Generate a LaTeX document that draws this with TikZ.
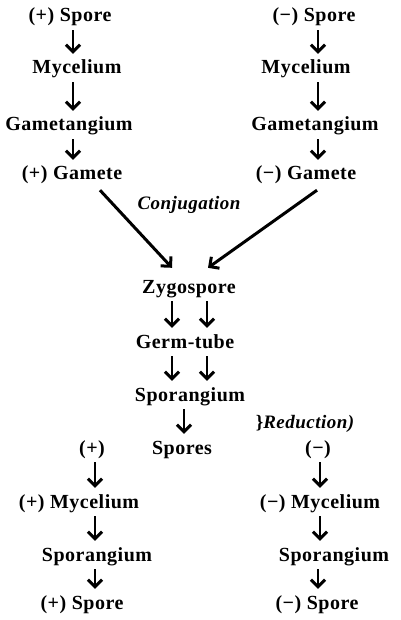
\documentclass[tikz,border=0pt]{standalone}
\usepackage{fontspec}
\setmainfont{Liberation Serif}[LetterSpace=2.5]
\usetikzlibrary{arrows.meta}
\begin{document}
\begin{tikzpicture}[x=1pt,y=-1pt,
  lbl/.style={anchor=base, inner sep=0pt, text height=13pt, text depth=4pt,
    font=\fontsize{20}{24}\selectfont\bfseries},
  itl/.style={anchor=base, inner sep=0pt, font=\fontsize{19}{23}\selectfont\bfseries\itshape},
  tip/.style={-{Straight Barb[length=7pt,width=14pt,line width=3pt]}},
  arr/.style={tip, line width=2.8pt, shorten <=4pt, shorten >=7pt},
  diag/.style={tip, line width=3pt}
]
\path[use as bounding box] (0,0) rectangle (400,620);
% left column
\node[lbl] (s1) at (70,22) {(+) Spore};
\node[lbl] (m1) at (77,74) {Mycelium};
\node[lbl] (g1) at (69,131) {Gametangium};
\node[lbl] (ga1) at (72,180) {(+) Gamete};
% right column
\node[lbl] (s2) at (314,22) {(−) Spore};
\node[lbl] (m2) at (306,74) {Mycelium};
\node[lbl] (g2) at (315,131) {Gametangium};
\node[lbl] (ga2) at (306,180) {(−) Gamete};
% centre
\node[itl] (conj) at (189,209) {Conjugation};
\node[lbl] (zyg) at (189,293) {Zygospore};
\node[lbl] (germ) at (185,348) {Germ-tube};
\node[lbl] (spor) at (190,401) {Sporangium};
\node[itl] (red) at (305,428) {\upshape\}\itshape Reduction)};
\node[lbl] (spores) at (182,454) {Spores};
\node[lbl] (p) at (92,454) {(+)};
\node[lbl] (m) at (318,454) {(−)};
% bottom
\node[lbl] (pm1) at (79,508) {(+) Mycelium};
\node[lbl] (sp1) at (97,561) {Sporangium};
\node[lbl] (e1) at (82,609) {(+) Spore};
\node[lbl] (pm2) at (320,508) {(−) Mycelium};
\node[lbl] (sp2) at (334,561) {Sporangium};
\node[lbl] (e2) at (317,609) {(−) Spore};
% arrows top
\draw[arr] ([xshift=3pt]s1.south) -- ([xshift=3pt]s1.south |- m1.north);
\draw[arr] ([xshift=-4pt]m1.south) -- ([xshift=-4pt]m1.south |- g1.north);
\draw[arr] ([xshift=4pt]g1.south) -- ([xshift=4pt]g1.south |- ga1.north);
\draw[arr] ([xshift=4pt]s2.south) -- ([xshift=4pt]s2.south |- m2.north);
\draw[arr] ([xshift=12pt]m2.south) -- ([xshift=12pt]m2.south |- g2.north);
\draw[arr] ([xshift=3pt]g2.south) -- ([xshift=3pt]g2.south |- ga2.north);
% conjugation
\draw[diag] ([xshift=28pt,yshift=-6pt]ga1.south) -- ([xshift=-17pt,yshift=12pt]zyg.north);
\draw[diag] ([xshift=11pt,yshift=-6pt]ga2.south) -- ([xshift=19pt,yshift=12pt]zyg.north);
% centre arrows
\draw[arr] ([xshift=-17pt]zyg.south) -- ([xshift=-17pt]zyg.south |- germ.north);
\draw[arr] ([xshift=18pt]zyg.south) -- ([xshift=18pt]zyg.south |- germ.north);
\draw[arr] ([xshift=-13pt]germ.south) -- ([xshift=-13pt]germ.south |- spor.north);
\draw[arr] ([xshift=22pt]germ.south) -- ([xshift=22pt]germ.south |- spor.north);
\draw[arr] ([xshift=-6pt]spor.south) -- ([xshift=-6pt]spor.south |- spores.north);
% bottom arrows
\draw[arr] ([xshift=3pt]p.south) -- ([xshift=3pt]p.south |- pm1.north);
\draw[arr] ([xshift=16pt]pm1.south) -- ([xshift=16pt]pm1.south |- sp1.north);
\draw[arr] ([xshift=-2pt]sp1.south) -- ([xshift=-2pt]sp1.south |- e1.north);
\draw[arr] ([xshift=2pt]m.south) -- ([xshift=2pt]m.south |- pm2.north);
\draw[arr] (pm2.south) -- (pm2.south |- sp2.north);
\draw[arr] ([xshift=-16pt]sp2.south) -- ([xshift=-16pt]sp2.south |- e2.north);
\end{tikzpicture}
\end{document}
